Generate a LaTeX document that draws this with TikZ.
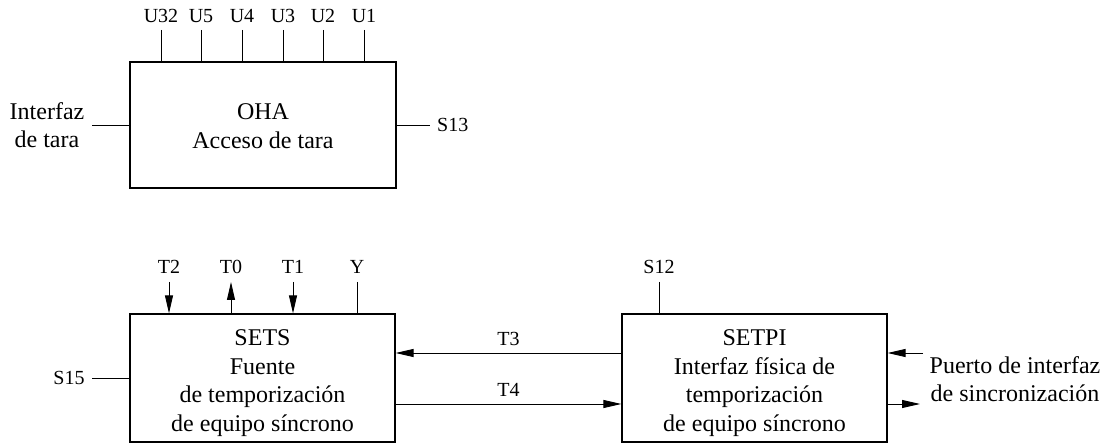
\documentclass[tikz,border=0pt]{standalone}
\usepackage{fontspec}
\setmainfont{Liberation Serif}
\usetikzlibrary{arrows.meta}
\begin{document}
\begin{tikzpicture}[x=1pt,y=-1pt,
  blockbox/.style={draw,line width=1.2pt,inner sep=0pt},
  blocktext/.style={inner sep=0pt,align=center,font=\fontsize{24}{28.5}\selectfont},
  sidetext/.style={inner sep=0pt,align=center,font=\fontsize{24}{28}\selectfont},
  portlabel/.style={inner sep=0pt,font=\fontsize{20}{24}\selectfont},
  wire/.style={line width=0.9pt},
  arr/.style={wire,-{Triangle[length=18pt,width=8pt]}}]
\useasboundingbox (0,0) rectangle (1109,443);

% blocks
\node[blockbox,minimum width=266pt,minimum height=126pt] (oha) at (263,125) {};
\node[blocktext] (ohatext) at (263,126) {OHA\\Acceso de tara};
\node[blockbox,minimum width=265pt,minimum height=128pt] (sets) at (262.5,378) {};
\node[blocktext] (setstext) at (262.5,383) {SETS\\Fuente\\de temporización\\de equipo síncrono};
\node[blockbox,minimum width=265pt,minimum height=128pt] (setpi) at (754.5,378) {};
\node[blocktext] (setpitext) at (754.5,383) {SETPI\\Interfaz física de\\temporización\\de equipo síncrono};

% OHA ports
\foreach \lab/\px in {U32/161,U5/201,U4/242,U3/283,U2/323,U1/364}{
  \node[portlabel] (l\lab) at (\px,16) {\lab};
  \coordinate (p\lab) at (\px,30);
  \draw[wire] (p\lab) -- (p\lab |- oha.north);
}
\node[sidetext] (tara) at (47,125) {Interfaz\\de tara};
\coordinate (ptara) at (92,125);
\draw[wire] (ptara) -- (oha.west);
\coordinate (ps13) at (430,125);
\draw[wire] (oha.east) -- (ps13);
\node[portlabel,anchor=west] (s13) at (437,125) {S13};

% SETS ports
\node[portlabel] (lT2) at (169,267) {T2};
\node[portlabel] (lT0) at (231,267) {T0};
\node[portlabel] (lT1) at (293,267) {T1};
\node[portlabel] (lY)  at (357,267) {Y};
\coordinate (pT2) at (169,282);
\coordinate (pT0) at (231,282);
\coordinate (pT1) at (293,282);
\coordinate (pY)  at (357,282);
\draw[arr] (pT2) -- (pT2 |- sets.north);
\draw[arr] (pT0 |- sets.north) -- (pT0);
\draw[arr] (pT1) -- (pT1 |- sets.north);
\draw[wire] (pY) -- (pY |- sets.north);
\node[portlabel] (s15) at (69,378) {S15};
\coordinate (ps15) at (92,378);
\draw[wire] (ps15) -- (sets.west);

% links between SETS and SETPI
\draw[arr] ([yshift=25pt]setpi.west) -- node[portlabel,above=7pt] (t3) {T3} ([yshift=25pt]sets.east);
\draw[arr] ([yshift=-26pt]sets.east) -- node[portlabel,above=7pt] (t4) {T4} ([yshift=-26pt]setpi.west);

% SETPI ports
\node[portlabel] (s12) at (659,267) {S12};
\coordinate (ps12) at (659,282);
\draw[wire] (ps12) -- (ps12 |- setpi.north);
\coordinate (pin) at (923,353);
\coordinate (pout) at (920,404);
\draw[arr] (pin) -- (pin -| setpi.east);
\draw[arr] (pout -| setpi.east) -- (pout);
\node[sidetext] (puerto) at (1015,379) {Puerto de interfaz\\de sincronización};
\end{tikzpicture}
\end{document}
